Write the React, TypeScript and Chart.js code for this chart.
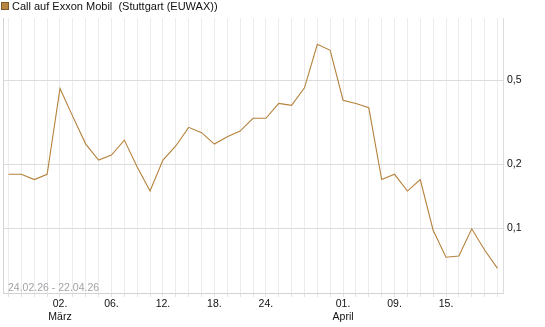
import React, { useEffect, useRef } from "react";
import { Chart, registerables } from "chart.js";

Chart.register(...registerables);

const dates = [
  "24.02", "25.02", "26.02", "27.02",
  "02.03", "03.03", "04.03", "05.03", "06.03",
  "09.03", "10.03", "11.03", "12.03", "13.03",
  "16.03", "17.03", "18.03", "19.03", "20.03",
  "23.03", "24.03", "25.03", "26.03", "27.03",
  "30.03", "31.03", "01.04", "02.04",
  "07.04", "08.04", "09.04", "10.04",
  "13.04", "14.04", "15.04", "16.04", "17.04",
  "20.04", "21.04",
];

const prices = [
  0.18, 0.18, 0.17, 0.18, 0.458, 0.337, 0.25, 0.21, 0.222, 0.261,
  0.195, 0.15, 0.21, 0.245, 0.3, 0.283, 0.25, 0.271, 0.288, 0.331,
  0.331, 0.389, 0.381, 0.461, 0.74, 0.693, 0.403, 0.389, 0.371, 0.17,
  0.18, 0.15, 0.17, 0.098, 0.073, 0.074, 0.0995, 0.079, 0.0647,
];

const xTickDates = ["02.03", "06.03", "12.03", "18.03", "24.03", "01.04", "09.04", "15.04"];
const xTickDays = ["02.", "06.", "12.", "18.", "24.", "01.", "09.", "15."];
const monthDates = ["02.03", "01.04"];
const monthNames = ["März", "April"];

const yTicks = [0.1, 0.2, 0.5];

const seriesName = "Call auf Exxon Mobil  (Stuttgart (EUWAX))";
const rangeText = "24.02.26 - 22.04.26";

const LINE_COLOR = "#b5823c";

export default function App() {
  const ref = useRef<HTMLCanvasElement | null>(null);

  useEffect(() => {
    const canvas = ref.current;
    if (!canvas) return;

    const overlay = {
      id: "overlay",
      beforeDatasetsDraw(chart: any) {
        const { ctx, chartArea } = chart;
        ctx.save();
        ctx.strokeStyle = "#d4d4d4";
        ctx.lineWidth = 1;
        ctx.beginPath();
        ctx.moveTo(Math.round(chartArea.left) + 0.5, chartArea.top);
        ctx.lineTo(Math.round(chartArea.left) + 0.5, chartArea.bottom);
        ctx.stroke();
        ctx.font = '10.5px "Liberation Sans", Arial, sans-serif';
        ctx.fillStyle = "#a3a3a8";
        ctx.textBaseline = "alphabetic";
        ctx.textAlign = "left";
        ctx.fillText(rangeText, 8, 290.5);
        ctx.restore();
      },
      afterDraw(chart: any) {
        const { ctx } = chart;
        ctx.save();
        ctx.fillStyle = "#b8873f";
        ctx.fillRect(1, 2, 8, 8);
        ctx.strokeStyle = "#7d5a26";
        ctx.lineWidth = 1;
        ctx.strokeRect(1.5, 2.5, 7, 7);
        ctx.font = '11px "Liberation Sans", Arial, sans-serif';
        ctx.fillStyle = "#111";
        ctx.textBaseline = "alphabetic";
        ctx.textAlign = "left";
        ctx.fillText(seriesName, 12, 10);
        ctx.restore();
      },
    };

    const chart = new Chart(canvas, {
      type: "line",
      data: {
        datasets: [
          {
            label: seriesName,
            data: prices.map((v, i) => ({ x: i, y: v })),
            borderColor: LINE_COLOR,
            backgroundColor: LINE_COLOR,
            borderWidth: 1.1,
            pointRadius: 0,
            tension: 0,
            fill: false,
          },
        ],
      },
      options: {
        responsive: false,
        animation: false,
        devicePixelRatio: 1,
        layout: { padding: { top: 18, left: 3, right: 0, bottom: 0 } },
        plugins: {
          legend: { display: false },
          tooltip: { enabled: false },
        },
        scales: {
          x: {
            type: "linear",
            min: -0.43,
            max: dates.length - 1 + 0.43,
            afterBuildTicks: (scale: any) => {
              scale.ticks = dates.map((_, i) => ({ value: i }));
            },
            afterFit: (scale: any) => {
              scale.height = 34;
            },
            ticks: {
              autoSkip: false,
              maxRotation: 0,
              minRotation: 0,
              padding: 1,
              color: "#111",
              font: { family: '"Liberation Sans", Arial, sans-serif', size: 10.5 },
              callback: (value: any) => {
                const d = dates[Number(value)];
                const k = xTickDates.indexOf(d);
                if (k < 0) return "";
                const m = monthDates.indexOf(d);
                return m >= 0 ? [xTickDays[k], monthNames[m]] : xTickDays[k];
              },
            },
            grid: {
              color: "#ececec",
              lineWidth: 1,
              drawTicks: true,
              tickLength: 4,
              tickColor: "#e2e2e2",
            },
            border: { display: true, color: "#d4d4d4" },
          },
          y: {
            type: "logarithmic",
            position: "right",
            min: 0.0495,
            max: 0.985,
            afterBuildTicks: (scale: any) => {
              scale.ticks = yTicks.map((v) => ({ value: v }));
            },
            afterFit: (scale: any) => {
              scale.width = 42;
            },
            ticks: {
              padding: 4,
              color: "#111",
              font: { family: '"Liberation Sans", Arial, sans-serif', size: 10.5 },
              callback: (value: any) => String(value).replace(".", ","),
            },
            grid: {
              color: "#dcdcdc",
              lineWidth: 1,
              drawTicks: false,
            },
            border: { display: true, color: "#dcdcdc" },
          },
        },
      },
      plugins: [overlay],
    } as any);

    return () => chart.destroy();
  }, []);

  return (
    <div style={{ position: "absolute", left: 0, top: 0, width: 545, height: 327, background: "#fff" }}>
      <canvas ref={ref} width={545} height={327} />
    </div>
  );
}
